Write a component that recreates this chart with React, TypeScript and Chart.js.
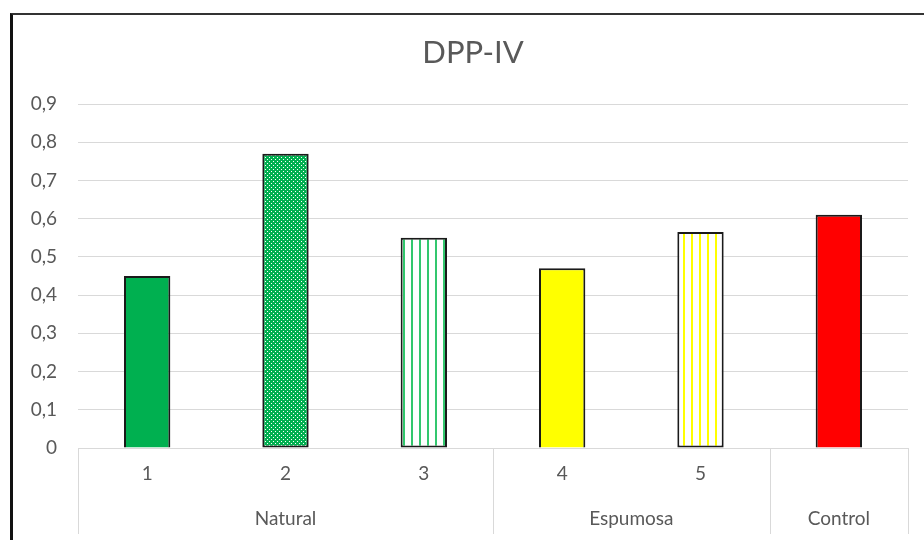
import React, { useEffect, useRef } from "react";
import { Chart, registerables } from "chart.js";

Chart.register(...registerables);

const categories = ["1", "2", "3", "4", "5", ""];
const values = [0.45, 0.77, 0.55, 0.47, 0.565, 0.61];
const groups = ["Natural", "Espumosa", "Control"];
const groupSizes = [3, 2, 1];
const titleText = "DPP-IV";
const yMax = 0.9;
const yStep = 0.1;

const FONT = "Lato, 'Open Sans', sans-serif";
const TEXT = "#595959";
const GRID = "#d9d9d9";

function makeDots(bg: string, dot: string): CanvasPattern | string {
  const c = document.createElement("canvas");
  c.width = 4;
  c.height = 4;
  const g = c.getContext("2d");
  if (!g) return bg;
  g.fillStyle = bg;
  g.fillRect(0, 0, 4, 4);
  g.fillStyle = dot;
  g.fillRect(1, 1, 1, 1);
  g.fillRect(3, 3, 1, 1);
  return g.createPattern(c, "repeat") || bg;
}

function makeStripes(bg: string, line: string): CanvasPattern | string {
  const c = document.createElement("canvas");
  c.width = 8;
  c.height = 8;
  const g = c.getContext("2d");
  if (!g) return bg;
  g.fillStyle = bg;
  g.fillRect(0, 0, 8, 8);
  g.fillStyle = line;
  g.fillRect(3, 0, 2, 8);
  return g.createPattern(c, "repeat") || bg;
}

const groupPlugin = {
  id: "groupPlugin",
  afterDraw(chart: any) {
    const ctx = chart.ctx;
    const xs = chart.scales.x;
    const area = chart.chartArea;
    const n = categories.length;
    const step = (area.right - area.left) / n;
    const bottom = area.bottom + xs.height;
    ctx.save();
    ctx.strokeStyle = GRID;
    ctx.lineWidth = 1;
    let idx = 0;
    const bounds: number[] = [xs.getPixelForValue(0) - step / 2];
    groupSizes.forEach((s) => {
      idx += s;
      bounds.push(xs.getPixelForValue(idx - 1) + step / 2);
    });
    bounds.forEach((b) => {
      const x = Math.round(b) + 0.5;
      ctx.beginPath();
      ctx.moveTo(x, area.bottom);
      ctx.lineTo(x, bottom);
      ctx.stroke();
    });
    ctx.fillStyle = TEXT;
    ctx.font = `19px ${FONT}`;
    ctx.textAlign = "center";
    ctx.textBaseline = "middle";
    groups.forEach((gName, i) => {
      const cx = (bounds[i] + bounds[i + 1]) / 2;
      ctx.fillText(gName, cx, area.bottom + 71);
    });
    // title
    ctx.font = `31px ${FONT}`;
    ctx.fillText(titleText, 473, 53);
    ctx.restore();
  },
};

export default function App() {
  const ref = useRef<HTMLCanvasElement | null>(null);
  useEffect(() => {
    if (!ref.current) return;
    const green = "#00b050";
    const colors = [
      green,
      makeDots(green, "#ffffff"),
      makeStripes("#ffffff", "#33c76e"),
      "#ffff00",
      makeStripes("#ffffff", "#ffff00"),
      "#ff0000",
    ];
    const chart = new Chart(ref.current, {
      type: "bar",
      data: {
        labels: categories,
        datasets: [
          {
            data: values,
            backgroundColor: colors as any,
            borderColor: "#1a1a1a",
            borderWidth: 2,
            borderSkipped: ["start", false, false, "start", false, "start"] as any,
            categoryPercentage: 1,
            barPercentage: 0.335,
          },
        ],
      },
      options: {
        responsive: false,
        animation: false,
        layout: { padding: { left: 14, right: 16, top: 104, bottom: 6 } },
        plugins: {
          legend: { display: false },
          title: { display: false },
          tooltip: { enabled: false },
        },
        scales: {
          x: {
            grid: { display: false, drawTicks: false },
            border: { display: true, color: GRID, width: 1 },
            ticks: {
              color: TEXT,
              font: { family: FONT, size: 19 },
              padding: 14,
              maxRotation: 0,
            },
            afterFit: (s: any) => {
              s.height = 86;
            },
          },
          y: {
            min: 0,
            max: yMax,
            grid: { color: GRID, lineWidth: 1, drawTicks: false },
            border: { display: false },
            ticks: {
              stepSize: yStep,
              color: TEXT,
              font: { family: FONT, size: 19 },
              padding: 21,
              callback: (v: any) =>
                Number(v) === 0 ? "0" : Number(v).toFixed(1).replace(".", ","),
            },
            afterFit: (s: any) => {
              s.width = 64;
            },
          },
        },
      },
      plugins: [groupPlugin],
    });
    return () => chart.destroy();
  }, []);
  return (
    <div
      style={{
        position: "fixed",
        left: 0,
        top: 0,
        width: 924,
        height: 540,
        background: "#ffffff",
        overflow: "hidden",
      }}
    >
      <canvas ref={ref} width={924} height={540} style={{ display: "block", position: "absolute", left: 0, top: 0 }} />
      <div
        style={{
          position: "absolute",
          left: 10,
          top: 13,
          width: 930,
          height: 540,
          borderLeft: "3px solid #111111",
          borderTop: "2px solid #333333",
          pointerEvents: "none",
        }}
      />
    </div>
  );
}
